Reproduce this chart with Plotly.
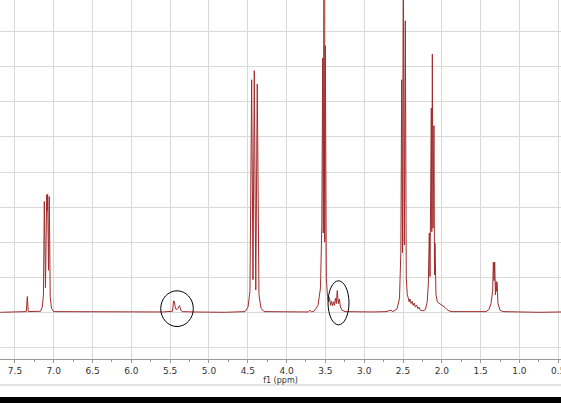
import plotly.graph_objects as go

# 1H NMR trace: chemical shift (ppm) and intensity
# (intensity unit = one horizontal grid step)
ppm_edge_l = [7.69, 7.45, 7.38]
int_edge_l = [0.0, 0.01, 0.0]

ppm_734 = [7.354, 7.341, 7.329]
int_734 = [0.02, 0.45, 0.02]

ppm_71 = [7.171, 7.148, 7.133, 7.122, 7.107, 7.091, 7.085, 7.079, 7.068,
          7.058, 7.046, 7.030, 7.004]
int_71 = [0.03, 0.15, 0.5, 3.16, 0.7, 3.35, 2.9, 3.37, 1.2,
          3.30, 0.45, 0.12, 0.02]

ppm_54 = [5.60, 5.470, 5.457, 5.445, 5.432, 5.412, 5.399, 5.380, 5.361, 5.342, 5.20]
int_54 = [0.01, 0.03, 0.33, 0.30, 0.10, 0.08, 0.12, 0.19, 0.05, 0.02, 0.01]

ppm_44 = [4.80, 4.536, 4.497, 4.472, 4.450, 4.433, 4.416, 4.397, 4.378,
          4.356, 4.330, 4.291]
int_44 = [0.0, 0.02, 0.15, 0.6, 6.63, 0.93, 6.89, 0.64, 6.51,
          0.5, 0.12, 0.02]

ppm_35 = [3.72, 3.70, 3.68, 3.647, 3.595, 3.563, 3.546, 3.535, 3.527, 3.518,
          3.509, 3.501, 3.488, 3.473]
int_35 = [0.01, 0.06, 0.01, 0.03, 0.2, 0.7, 2.5, 7.25, 2.26, 10.5,
          2.0, 7.6, 1.0, 0.45]

ppm_335 = [3.460, 3.447, 3.434, 3.421, 3.408, 3.396, 3.383, 3.370, 3.359,
           3.347, 3.334, 3.321, 3.306, 3.286, 3.247]
int_335 = [0.3, 0.42, 0.2, 0.32, 0.18, 0.3, 0.2, 0.4, 0.25,
           0.62, 0.25, 0.38, 0.15, 0.06, 0.02]

ppm_25 = [2.90, 2.719, 2.655, 2.629, 2.577, 2.545, 2.528, 2.517, 2.507, 2.496,
          2.483, 2.470, 2.458, 2.445, 2.433, 2.421, 2.411, 2.395, 2.381,
          2.369, 2.356, 2.340, 2.325, 2.308, 2.295, 2.275, 2.243, 2.211, 2.188]
int_25 = [0.01, 0.02, 0.06, 0.02, 0.1, 0.4, 1.7, 6.63, 1.7, 10.5,
          1.92, 8.31, 1.0, 0.5, 0.42, 0.3, 0.38, 0.25, 0.31,
          0.2, 0.26, 0.15, 0.21, 0.1, 0.15, 0.06, 0.04, 0.08, 0.3]

ppm_21 = [2.174, 2.161, 2.152, 2.135, 2.129, 2.122, 2.113, 2.101, 2.094,
          2.088, 2.075, 2.058, 2.036, 2.010, 1.985, 1.959, 1.933, 1.907, 1.869]
int_21 = [0.8, 2.26, 1.02, 5.82, 2.3, 7.36, 2.4, 5.32, 1.07,
          1.97, 0.5, 0.3, 0.26, 0.22, 0.2, 0.14, 0.08, 0.04, 0.02]

ppm_13 = [1.60, 1.430, 1.392, 1.366, 1.345, 1.336, 1.327, 1.318, 1.309,
          1.301, 1.295, 1.289, 1.276, 1.250, 1.212]
int_13 = [0.01, 0.02, 0.08, 0.25, 0.6, 1.43, 0.9, 1.43, 0.5,
          0.88, 0.6, 0.86, 0.25, 0.06, 0.02]

ppm_edge_r = [1.0, 0.75, 0.46]
int_edge_r = [0.01, 0.0, 0.01]

x_ticks = [7.5, 7.0, 6.5, 6.0, 5.5, 5.0, 4.5, 4.0, 3.5, 3.0, 2.5, 2.0, 1.5, 1.0, 0.5]

shift = (ppm_edge_l + ppm_734 + ppm_71 + ppm_54 + ppm_44 + ppm_35 + ppm_335
         + ppm_25 + ppm_21 + ppm_13 + ppm_edge_r)
intensity = (int_edge_l + int_734 + int_71 + int_54 + int_44 + int_35 + int_335
             + int_25 + int_21 + int_13 + int_edge_r)

fig = go.Figure()

fig.add_trace(go.Scatter(
    x=shift,
    y=intensity,
    mode="lines",
    line=dict(color="#a02c2c", width=1),
    hoverinfo="skip",
    showlegend=False,
))

# circles marking the two small multiplets
for x0, x1, y0, y1 in [(5.622, 5.202, -0.405, 0.613), (3.466, 3.196, -0.356, 0.898)]:
    fig.add_shape(type="circle", xref="x", yref="y", x0=x0, x1=x1, y0=y0, y1=y1,
                  line=dict(color="black", width=1))

# window chrome under the axis
fig.add_shape(type="line", xref="paper", yref="paper", x0=0, x1=1,
              y0=-0.0724, y1=-0.0724, line=dict(color="#c8c8c8", width=1))
fig.add_shape(type="rect", xref="paper", yref="paper", x0=-0.01, x1=1.01,
              y0=-0.1058, y1=-0.13, line=dict(width=0), fillcolor="black")

fig.update_layout(
    width=561,
    height=403,
    margin=dict(l=0, r=0, t=0, b=44),
    paper_bgcolor="white",
    plot_bgcolor="white",
    font=dict(family="DejaVu Sans", size=9, color="#333333"),
    xaxis=dict(
        range=[7.693, 0.464],
        tickvals=x_ticks,
        tickformat=".1f",
        showgrid=True,
        gridcolor="#d9d9d9",
        gridwidth=1,
        zeroline=False,
        showline=True,
        linecolor="#999999",
        ticks="outside",
        ticklen=3,
        tickcolor="#999999",
        minor=dict(dtick=0.25, tick0=0, ticks="outside", ticklen=2,
                   tickcolor="#999999", showgrid=False),
        ticklabeloverflow="allow",
        tickfont=dict(size=9, color="#333333"),
        title=dict(text="f1 (ppm)", font=dict(size=8, color="#333333"), standoff=1),
        automargin=False,
    ),
    yaxis=dict(
        range=[-1.331, 8.904],
        dtick=1,
        tick0=0,
        showgrid=True,
        gridcolor="#d9d9d9",
        gridwidth=1,
        zeroline=False,
        showticklabels=False,
        showline=False,
        automargin=False,
    ),
)

# drop the default page margin so the figure sits at the window corner
fig.write_html("out.html",
               config={"displayModeBar": False},
               post_script="document.body.style.margin='0';document.body.style.padding='0';")
